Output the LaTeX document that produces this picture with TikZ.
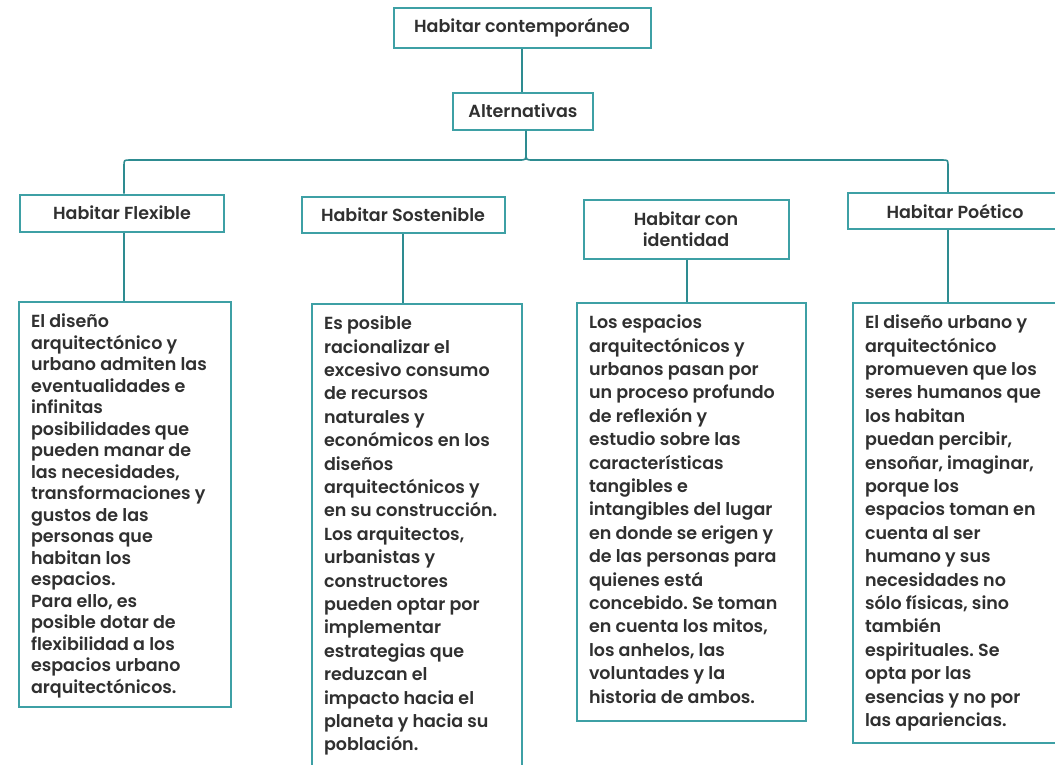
\documentclass[tikz,border=0pt]{standalone}
\usepackage{fontspec}
\setmainfont{Poppins}[UprightFont=* SemiBold]
\definecolor{boxc}{RGB}{62,160,165}
\definecolor{linec}{RGB}{46,140,145}
\definecolor{inkc}{RGB}{48,48,48}
\frenchspacing
\begin{document}
\begin{tikzpicture}[x=1pt,y=-1pt,
  hdr/.style={draw=boxc, line width=2pt, fill=white, text=inkc, align=center,
    font=\fontsize{17.5}{21}\selectfont, inner sep=0pt},
  txt/.style={draw=boxc, line width=2pt, fill=white, text=inkc, anchor=north west,
    inner xsep=12pt, inner ysep=12pt, font=\fontsize{17.5}{23.4}\selectfont},
  link/.style={draw=linec, line width=1.6pt}]
\useasboundingbox (0,0) rectangle (1055,764);
\clip (0,0) rectangle (1055,764);

% title and second level
\node[hdr, minimum width=257pt, minimum height=40pt] (top) at (522,28) {Habitar contemporáneo};
\node[hdr, minimum width=140pt, minimum height=37pt] (alt) at (523,111) {Alternativas};

% four alternatives
\node[hdr, minimum width=204pt, minimum height=37pt] (h1) at (122,213) {Habitar Flexible};
\node[hdr, minimum width=203pt, minimum height=36pt] (h2) at (403,215) {Habitar Sostenible};
\node[hdr, minimum width=205pt, minimum height=59pt] (h3) at (686,229) {Habitar con\\identidad};
\node[hdr, minimum width=214pt, minimum height=36pt] (h4) at (955,211) {Habitar Poético};

% description boxes
\node[txt] (t1) at (18,301) {\parbox[b][381pt][t]{188pt}{\fontsize{17.5}{21.5}\selectfont\raggedright
El diseño\\arquitectónico y\\urbano admiten las\\eventualidades e\\infinitas\\posibilidades que\\pueden manar de\\las necesidades,\\transformaciones y\\gustos de las\\personas que\\habitan los\\espacios.\\Para ello, es\\posible dotar de\\flexibilidad a los\\espacios urbano\\arquitectónicos.}};
\node[txt] (t2) at (311,303) {\parbox[b][490pt][t]{186pt}{\raggedright
Es posible\\racionalizar el\\excesivo consumo\\de recursos\\naturales y\\económicos en los\\diseños\\arquitectónicos y\\en su construcción.\\Los arquitectos,\\urbanistas y\\constructores\\pueden optar por\\implementar\\estrategias que\\reduzcan el\\impacto hacia el\\planeta y hacia su\\población.}};
\node[txt] (t3) at (576,302) {\parbox[b][394pt][t]{205pt}{\raggedright
Los espacios\\arquitectónicos y\\urbanos pasan por\\un proceso profundo\\de reflexión y\\estudio sobre las\\características\\tangibles e\\intangibles del lugar\\en donde se erigen y\\de las personas para\\quienes está\\concebido. Se toman\\en cuenta los mitos,\\los anhelos, las\\voluntades y la\\historia de ambos.}};
\node[txt] (t4) at (852,302) {\parbox[b][416pt][t]{206pt}{\raggedright
El diseño urbano y\\arquitectónico\\promueven que los\\seres humanos que\\los habitan\\puedan percibir,\\ensoñar, imaginar,\\porque los\\espacios toman en\\cuenta al ser\\humano y sus\\necesidades no\\sólo físicas, sino\\también\\espirituales. Se\\opta por las\\esencias y no por\\las apariencias.}};

% connectors
\coordinate (fork) at ([xshift=3pt]alt.south |- 0,153);
\draw[link] (top.south) -- (top.south |- alt.north);
\draw[link] ([xshift=3pt]alt.south) -- (fork)
  .. controls ([xshift=3pt]alt.south |- 0,160) .. ([xshift=-4pt]alt.south |- 0,160)
  -- ([xshift=8pt]h1.north |- 0,160) .. controls ([xshift=2pt]h1.north |- 0,160) .. ([xshift=2pt]h1.north |- 0,166)
  -- ([xshift=2pt]h1.north);
\draw[link] (fork)
  .. controls ([xshift=3pt]alt.south |- 0,160) .. ([xshift=10pt]alt.south |- 0,160)
  -- ([xshift=-13pt]h4.north |- 0,160) .. controls ([xshift=-7pt]h4.north |- 0,160) .. ([xshift=-7pt]h4.north |- 0,166)
  -- ([xshift=-7pt]h4.north);
\draw[link] ([xshift=2pt]h1.south) -- ([xshift=2pt]h1.south |- t1.north);
\draw[link] (h2.south) -- (h2.south |- t2.north);
\draw[link] ([xshift=1pt]h3.south) -- ([xshift=1pt]h3.south |- t3.north);
\draw[link] ([xshift=-7pt]h4.south) -- ([xshift=-7pt]h4.south |- t4.north);
\end{tikzpicture}
\end{document}
